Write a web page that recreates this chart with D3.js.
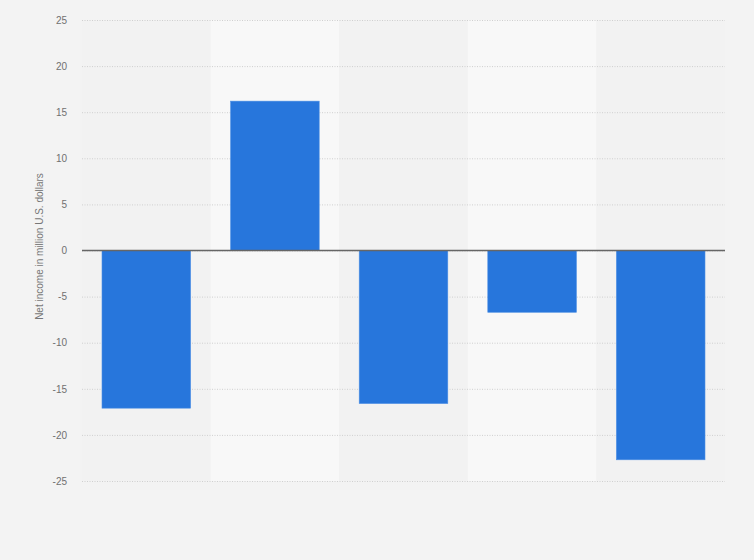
<!DOCTYPE html>
<html>
<head>
<meta charset="utf-8">
<script src="https://cdn.jsdelivr.net/npm/d3@7"></script>
<style>
  html, body { margin: 0; padding: 0; background: #f3f3f3; }
  #chart { width: 754px; height: 560px; }
</style>
</head>
<body>
<div id="chart"></div>
<script>
// categories have no visible labels in the source picture
const categories = ["c1", "c2", "c3", "c4", "c5"];
const netIncome = [-17.1, 16.2, -16.6, -6.7, -22.7];
const yTicks = [-25, -20, -15, -10, -5, 0, 5, 10, 15, 20, 25];

const width = 754, height = 560;
const margin = { left: 82, right: 29, top: 20, bottom: 79 };
const innerW = width - margin.left - margin.right;
const innerH = height - margin.top - margin.bottom;
const font = "'Liberation Sans', Arial, sans-serif";

const svg = d3.select("#chart").append("svg")
    .attr("width", width)
    .attr("height", height);

svg.append("rect").attr("width", width).attr("height", height).attr("fill", "#f3f3f3");

const g = svg.append("g").attr("transform", `translate(${margin.left},${margin.top})`);

const x = d3.scaleBand().domain(categories).range([0, innerW]).paddingInner(0).paddingOuter(0);
const y = d3.scaleLinear().domain([-25, 25]).range([innerH, 0]);

// alternating column bands
g.append("g").selectAll("rect")
    .data(categories)
    .join("rect")
    .attr("x", d => x(d))
    .attr("y", 0)
    .attr("width", x.bandwidth())
    .attr("height", innerH)
    .attr("fill", (d, i) => i % 2 ? "#f8f8f8" : "#f2f2f2");

// gridlines + tick labels
const axis = g.append("g")
    .call(d3.axisLeft(y).tickValues(yTicks).tickFormat(d => String(d)).tickSize(-innerW).tickPadding(15));
axis.select(".domain").remove();
axis.selectAll(".tick line")
    .attr("stroke", "#cfcfcf")
    .attr("stroke-dasharray", "1,1.5")
    .attr("stroke-width", 1);
axis.selectAll(".tick text")
    .attr("fill", "#707070")
    .attr("font-family", font)
    .attr("font-size", 10)
    .attr("x", -15);

// bars
const pad = 20;
g.append("g").selectAll("rect")
    .data(netIncome)
    .join("rect")
    .attr("x", (d, i) => x(categories[i]) + pad)
    .attr("width", x.bandwidth() - 2 * pad)
    .attr("y", d => y(Math.max(0, d)))
    .attr("height", d => Math.abs(y(d) - y(0)))
    .attr("fill", "#2776dc")
    .attr("stroke", "#4d8fe4")
    .attr("stroke-width", 0.6);

// zero line
g.append("line")
    .attr("x1", 0).attr("x2", innerW)
    .attr("y1", y(0)).attr("y2", y(0))
    .attr("stroke", "#666")
    .attr("stroke-width", 1.5);

// y label
svg.append("text")
    .attr("transform", `translate(43,${margin.top + y(0) - 4}) rotate(-90)`)
    .attr("text-anchor", "middle")
    .attr("fill", "#777")
    .attr("font-family", font)
    .attr("font-size", 10)
    .text("Net income in million U.S. dollars");
</script>
</body>
</html>
